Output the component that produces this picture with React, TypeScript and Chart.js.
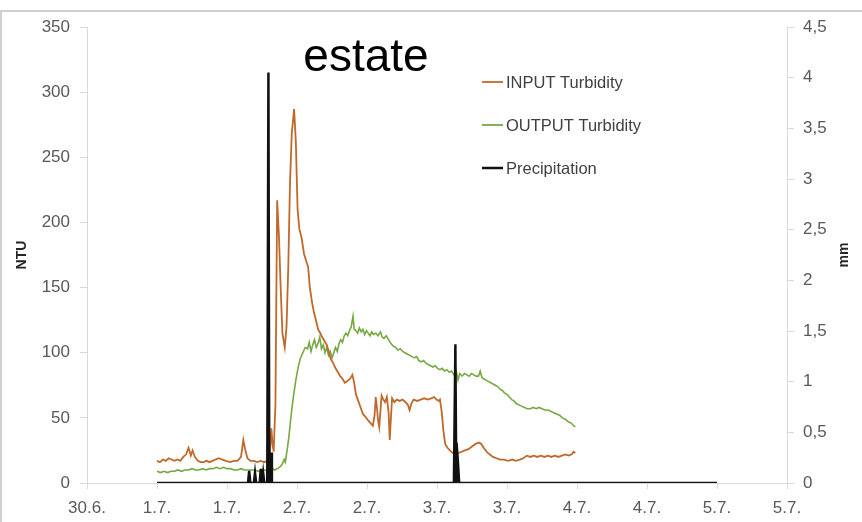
import React, { useEffect, useRef } from "react";
import { Chart, registerables } from "chart.js";

Chart.register(...registerables);

// Time axis: hours counted from 30.6. 12:00, one label every 12 h
const xTickLabels = ["30.6.", "1.7.", "1.7.", "2.7.", "2.7.", "3.7.", "3.7.", "4.7.", "4.7.", "5.7.", "5.7."];
const mmTickLabels = ["0", "0,5", "1", "1,5", "2", "2,5", "3", "3,5", "4", "4,5"];
const legendLabels = ["INPUT Turbidity", "OUTPUT Turbidity", "Precipitation"];
const chartTitle = "estate";

// [hour, NTU]
const inputTurbidity: [number, number][] = [
  [12.0, 17], [12.5, 16], [13.0, 18], [13.5, 17], [14.0, 19], [14.5, 18], [15.0, 17], [15.5, 18],
  [16.0, 17], [16.5, 20], [17.0, 22], [17.4, 27], [17.8, 21], [18.1, 25], [18.5, 20], [19.0, 17],
  [19.5, 16], [20.0, 16], [20.5, 17], [21.0, 16], [21.5, 17], [22.0, 18], [22.6, 19], [23.2, 18],
  [23.8, 17], [24.5, 16], [25.2, 17], [25.8, 17], [26.4, 20], [26.8, 33], [27.1, 26], [27.5, 19],
  [28.0, 17], [28.6, 17], [29.2, 16], [29.8, 17], [30.4, 16], [30.9, 17], [31.3, 18], [31.6, 42],
  [31.8, 30], [32.0, 24], [32.3, 60], [32.6, 217], [32.9, 190], [33.2, 150], [33.5, 115], [33.9, 104],
  [34.2, 120], [34.5, 165], [34.8, 230], [35.1, 268], [35.5, 287], [35.8, 262], [36.1, 210], [36.4, 195],
  [36.8, 188], [37.2, 176], [37.6, 170], [37.9, 166], [38.2, 150], [38.6, 138], [38.9, 131], [39.3, 124],
  [39.6, 118], [40.0, 115], [40.3, 112], [40.7, 109], [41.1, 106], [41.5, 100], [41.8, 95], [42.2, 92],
  [42.5, 89], [42.9, 86], [43.4, 82], [43.8, 80], [44.2, 77], [44.6, 78], [45.1, 80], [45.5, 83],
  [45.8, 77], [46.1, 68], [46.5, 63], [46.9, 58], [47.3, 53], [47.7, 51], [48.2, 48], [48.6, 46],
  [49.0, 44], [49.3, 52], [49.5, 66], [49.7, 58], [49.9, 48], [50.1, 43], [50.3, 55], [50.5, 67],
  [50.8, 64], [51.1, 62], [51.4, 66], [51.7, 54], [51.9, 33], [52.1, 50], [52.3, 65], [52.7, 62],
  [53.1, 64], [53.6, 63], [54.1, 64], [54.6, 62], [55.0, 60], [55.3, 56], [55.6, 61], [56.0, 64],
  [56.6, 63], [57.2, 64], [57.8, 65], [58.4, 64], [59.0, 65], [59.5, 66], [59.9, 64], [60.3, 63],
  [60.5, 64], [60.8, 55], [61.1, 40], [61.4, 30], [61.8, 27], [62.2, 25], [62.7, 23], [63.2, 22],
  [63.7, 23], [64.2, 24], [64.8, 25], [65.4, 26], [66.0, 28], [66.6, 30], [67.2, 31], [67.6, 30],
  [68.0, 27], [68.5, 24], [69.0, 22], [69.6, 20], [70.2, 19], [70.8, 18], [71.5, 18], [72.2, 17],
  [72.9, 18], [73.5, 17], [74.2, 18], [74.8, 19], [75.4, 21], [76.0, 20], [76.6, 21], [77.2, 20],
  [77.8, 21], [78.4, 20], [79.0, 21], [79.6, 20], [80.2, 21], [80.8, 20], [81.4, 21], [82.0, 22],
  [82.6, 21], [83.1, 22], [83.4, 24], [83.7, 23],
];

// [hour, NTU]
const outputTurbidity: [number, number][] = [
  [12.0, 9], [12.6, 8], [13.2, 9], [13.8, 8], [14.4, 9], [15.0, 9], [15.6, 10], [16.2, 9],
  [16.8, 10], [17.4, 10], [18.0, 11], [18.6, 10], [19.2, 10], [19.8, 11], [20.4, 10], [21.0, 11],
  [21.6, 11], [22.2, 12], [22.8, 11], [23.4, 12], [24.0, 11], [24.6, 11], [25.2, 10], [25.8, 10],
  [26.4, 11], [27.0, 10], [27.6, 10], [28.2, 10], [28.8, 10], [29.4, 9], [30.0, 10], [30.6, 10],
  [31.0, 9], [31.3, 17], [31.5, 12], [31.8, 11], [32.2, 10], [32.6, 11], [33.0, 12], [33.4, 14],
  [33.8, 18], [34.0, 16], [34.3, 25], [34.6, 35], [34.9, 48], [35.2, 60], [35.5, 70], [35.8, 79],
  [36.2, 89], [36.6, 96], [37.0, 100], [37.4, 104], [37.8, 103], [38.1, 108], [38.4, 101], [38.7, 106],
  [39.0, 110], [39.3, 104], [39.6, 107], [39.9, 112], [40.2, 103], [40.5, 106], [40.8, 100], [41.1, 104],
  [41.4, 98], [41.7, 101], [42.0, 96], [42.3, 100], [42.6, 104], [42.9, 101], [43.2, 107], [43.5, 110],
  [43.8, 108], [44.1, 113], [44.4, 115], [44.7, 113], [45.0, 117], [45.3, 120], [45.6, 128], [45.8, 118],
  [46.1, 117], [46.4, 115], [46.7, 119], [47.0, 116], [47.3, 118], [47.6, 114], [47.9, 117], [48.2, 115],
  [48.5, 113], [48.8, 116], [49.1, 114], [49.5, 115], [49.9, 113], [50.3, 116], [50.6, 112], [50.9, 111],
  [51.3, 113], [51.7, 110], [52.1, 107], [52.5, 105], [52.9, 104], [53.3, 102], [53.7, 103], [54.1, 101],
  [54.5, 100], [54.9, 99], [55.3, 98], [55.7, 97], [56.1, 96], [56.5, 97], [56.9, 94], [57.3, 93],
  [57.7, 94], [58.1, 92], [58.5, 91], [58.9, 90], [59.3, 89], [59.7, 90], [60.1, 88], [60.5, 87],
  [60.9, 88], [61.3, 86], [61.7, 87], [62.1, 85], [62.5, 86], [62.9, 83], [63.3, 86], [63.6, 79],
  [63.9, 84], [64.3, 82], [64.7, 84], [65.1, 83], [65.5, 82], [65.9, 84], [66.3, 83], [66.7, 82],
  [67.1, 82], [67.4, 86], [67.7, 81], [68.0, 80], [68.4, 79], [68.8, 78], [69.2, 77], [69.6, 76],
  [70.0, 75], [70.4, 74], [70.8, 72], [71.2, 71], [71.6, 69], [72.0, 68], [72.4, 66], [72.8, 64],
  [73.2, 63], [73.6, 61], [74.0, 60], [74.5, 59], [75.0, 58], [75.5, 57], [76.0, 57], [76.5, 58],
  [77.0, 57], [77.5, 58], [78.0, 57], [78.5, 56], [79.0, 56], [79.5, 55], [80.0, 54], [80.5, 53],
  [81.0, 52], [81.5, 50], [82.0, 49], [82.5, 47], [83.0, 46], [83.4, 44], [83.7, 43],
];

// [hour, mm]
const precipitation: [number, number][] = [
  [12.0, 0], [27.6, 0], [27.8, 0.12], [28.0, 0], [28.6, 0], [28.8, 0.1], [29.0, 0], [29.6, 0],
  [29.8, 0.14], [30.0, 0], [30.2, 0.1], [30.4, 0], [30.9, 0], [31.1, 4.05], [31.25, 0], [31.4, 0],
  [31.55, 0.3], [31.7, 0], [62.9, 0], [63.15, 1.37], [63.3, 0], [63.35, 0.4], [63.5, 0.28],
  [63.65, 0.15], [63.8, 0], [108.0, 0],
];

const INPUT_COLOR = "#C0692A";
const OUTPUT_COLOR = "#76A843";
const PRECIP_COLOR = "#111111";
const AXIS_GRAY = "#D9D9D9";
const TICK_TEXT = "#595959";
const FONT = "'Liberation Sans', Arial, sans-serif";

const toPoints = (rows: [number, number][]) => rows.map(([x, y]) => ({ x, y }));

const overlayPlugin = {
  id: "overlay",
  afterDraw(chart: any) {
    const { ctx, chartArea } = chart;
    ctx.save();

    // title
    ctx.fillStyle = "#000000";
    ctx.font = `46px ${FONT}`;
    ctx.textAlign = "center";
    ctx.textBaseline = "alphabetic";
    ctx.fillText(chartTitle, chartArea.left + 279, chartArea.top + 44);

    // legend inside the plot
    const colors = [INPUT_COLOR, OUTPUT_COLOR, PRECIP_COLOR];
    const widths = [1.8, 1.8, 2.5];
    ctx.font = `16.5px ${FONT}`;
    ctx.textAlign = "left";
    ctx.textBaseline = "middle";
    legendLabels.forEach((label, i) => {
      const y = chartArea.top + 55 + i * 43;
      const x0 = chartArea.left + 395;
      ctx.strokeStyle = colors[i];
      ctx.lineWidth = widths[i];
      ctx.beginPath();
      ctx.moveTo(x0, y);
      ctx.lineTo(x0 + 21, y);
      ctx.stroke();
      ctx.fillStyle = "#404040";
      ctx.fillText(label, x0 + 24, y + 1);
    });

    // secondary axis title, reading bottom to top
    const midY = (chartArea.top + chartArea.bottom) / 2;
    ctx.translate(chart.width - 18, midY);
    ctx.rotate(-Math.PI / 2);
    ctx.font = `bold 14px ${FONT}`;
    ctx.textAlign = "center";
    ctx.textBaseline = "middle";
    ctx.fillStyle = "#262626";
    ctx.fillText("mm", 0, 0);
    ctx.restore();
  },
};

export default function App() {
  const canvasRef = useRef<HTMLCanvasElement | null>(null);

  useEffect(() => {
    document.body.style.margin = "0";
    const canvas = canvasRef.current;
    if (!canvas) return;

    const chart = new Chart(canvas, {
      type: "line",
      data: {
        datasets: [
          {
            label: legendLabels[2],
            data: toPoints(precipitation),
            yAxisID: "yMm",
            borderColor: PRECIP_COLOR,
            borderWidth: 2.5,
            pointRadius: 0,
            order: 0,
          },
          {
            label: legendLabels[0],
            data: toPoints(inputTurbidity),
            yAxisID: "yNtu",
            borderColor: INPUT_COLOR,
            borderWidth: 1.8,
            pointRadius: 0,
            order: 1,
          },
          {
            label: legendLabels[1],
            data: toPoints(outputTurbidity),
            yAxisID: "yNtu",
            borderColor: OUTPUT_COLOR,
            borderWidth: 1.6,
            pointRadius: 0,
            order: 2,
          },
        ],
      },
      options: {
        responsive: false,
        animation: false,
        devicePixelRatio: 1,
        events: [],
        layout: { padding: { top: 27, left: 0, right: 0, bottom: 0 } },
        plugins: {
          legend: { display: false },
          tooltip: { enabled: false },
          title: { display: false },
        },
        scales: {
          x: {
            type: "linear",
            min: 0,
            max: 120,
            afterFit: (s: any) => {
              s.height = 39;
            },
            afterBuildTicks: (s: any) => {
              s.ticks = xTickLabels.map((_, i) => ({ value: i * 12 }));
            },
            ticks: {
              autoSkip: false,
              maxRotation: 0,
              padding: 9,
              color: TICK_TEXT,
              font: { family: FONT, size: 17 },
              callback: (v: any) => xTickLabels[Math.round(Number(v) / 12)] ?? "",
            },
            grid: { drawOnChartArea: false, drawTicks: true, tickLength: 6, color: AXIS_GRAY },
            border: { display: true, color: AXIS_GRAY, width: 1 },
          },
          yNtu: {
            type: "linear",
            position: "left",
            min: 0,
            max: 350,
            afterFit: (s: any) => {
              s.width = 87;
            },
            ticks: {
              stepSize: 50,
              padding: 10,
              color: TICK_TEXT,
              font: { family: FONT, size: 17 },
            },
            title: {
              display: true,
              text: "NTU",
              color: "#262626",
              font: { family: FONT, size: 14, weight: "bold" },
              padding: { top: 14, bottom: 0 },
            },
            grid: { drawOnChartArea: false, drawTicks: true, tickLength: 7, color: AXIS_GRAY },
            border: { display: true, color: AXIS_GRAY, width: 1 },
          },
          yMm: {
            type: "linear",
            position: "right",
            min: 0,
            max: 4.5,
            afterFit: (s: any) => {
              s.width = 75;
            },
            ticks: {
              stepSize: 0.5,
              padding: 9,
              color: TICK_TEXT,
              font: { family: FONT, size: 17 },
              callback: (v: any) => mmTickLabels[Math.round(Number(v) * 2)] ?? "",
            },
            grid: { drawOnChartArea: false, drawTicks: true, tickLength: 7, color: AXIS_GRAY },
            border: { display: true, color: AXIS_GRAY, width: 1 },
          },
        },
      },
      plugins: [overlayPlugin],
    });

    return () => chart.destroy();
  }, []);

  return (
    <div style={{ position: "relative", width: 862, height: 522, background: "#ffffff" }}>
      <canvas ref={canvasRef} width={862} height={522} style={{ display: "block" }} />
      <div
        style={{
          position: "absolute",
          left: 0,
          top: 10,
          width: 862,
          height: 512,
          boxSizing: "border-box",
          borderTop: "2px solid #D0D0D0",
          borderLeft: "2px solid #D0D0D0",
          pointerEvents: "none",
        }}
      />
    </div>
  );
}
